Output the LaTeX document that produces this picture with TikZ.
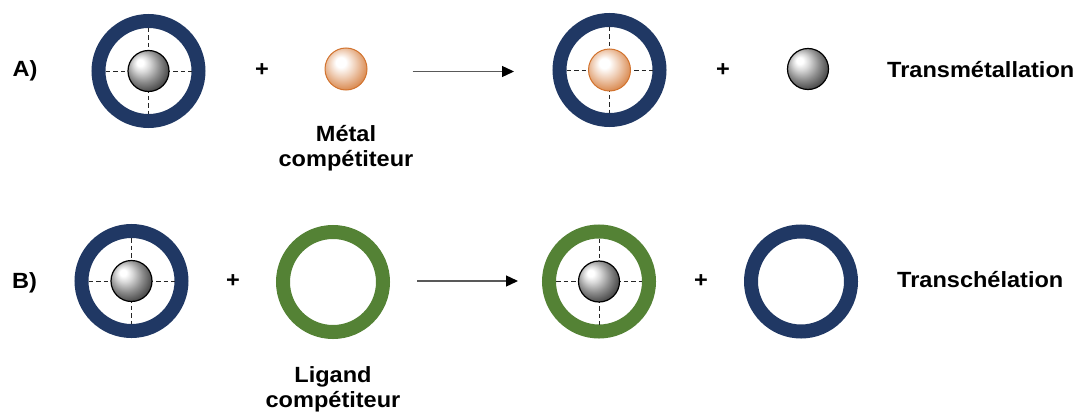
\documentclass[tikz,border=0pt]{standalone}
\usepackage{fontspec}
\setmainfont[FakeStretch=1.07]{Liberation Sans}
\usetikzlibrary{arrows.meta,calc}
\definecolor{navy}{HTML}{203864}
\definecolor{leaf}{HTML}{548235}
\definecolor{ballorange}{HTML}{D2732E}
\definecolor{arrowgray}{HTML}{595959}
\pgfdeclareradialshading{grayball}{\pgfpoint{-11bp}{11bp}}{color(0bp)=(white); color(4bp)=(white); color(10bp)=(black!15); color(20bp)=(black!45); color(30bp)=(black!72); color(40bp)=(black!88); color(50bp)=(black)}
\pgfdeclareradialshading{orangeball}{\pgfpoint{-7bp}{9bp}}{color(0bp)=(white); color(6bp)=(white); color(16bp)=(ballorange!35!white); color(28bp)=(ballorange!80!white); color(38bp)=(ballorange); color(50bp)=(ballorange)}
\tikzset{
  ring/.style={circle, draw=#1, line width=14pt, minimum size=100pt, inner sep=0pt},
  grayb/.style={circle, shading=grayball, draw=black, line width=1.2pt, minimum size=41pt, inner sep=0pt},
  orangeb/.style={circle, shading=orangeball, draw=ballorange, line width=1pt, minimum size=42pt, inner sep=0pt},
  crossl/.style={dash pattern=on 4.5pt off 3pt, line width=0.9pt, black!85},
  rxn/.style={draw=arrowgray, line width=1.3pt, -{Triangle[length=12pt,width=11pt,color=black]}},
  lbl/.style={font=\fontsize{22}{25}\selectfont\bfseries, inner sep=0pt, text=black},
  plus/.style={font=\fontsize{22}{26}\selectfont\bfseries, inner sep=0pt}
}
\newcommand{\crosshair}[1]{%
  \draw[crossl] ($(#1.center)+(-43,0)$) -- ($(#1.center)+(43,0)$);
  \draw[crossl] ($(#1.center)+(0,-43)$) -- ($(#1.center)+(0,43)$);}
\begin{document}
\begin{tikzpicture}[x=1pt,y=-1pt]
\useasboundingbox (0,0) rectangle (1078,412);
% Row A
\node[lbl, anchor=base west] (la) at (12.5,77) {A)};
\node[ring=navy] (ra1) at (148.5,71) {};
\crosshair{ra1}
\node[grayb] (ba1) at (148.5,71) {};
\node[plus] (pa1) at (262,70) {+};
\node[orangeb] (oa) at (346,69) {};
\node[lbl, align=center, anchor=north] (tm) at (346,125) {Métal\\compétiteur};
\coordinate (as) at (412.5,71.5);
\coordinate (ae) at (514,71.5);
\draw[rxn] (as) -- (ae);
\node[ring=navy] (ra2) at (609.5,70) {};
\crosshair{ra2}
\node[orangeb] (oa2) at (609.5,70) {};
\node[plus] (pa2) at (723,70) {+};
\node[grayb] (ba2) at (808,69) {};
\node[lbl, anchor=base west] (ta) at (887,77.5) {Transmétallation};
% Row B
\node[lbl, anchor=base west] (lb) at (12,288) {B)};
\node[ring=navy] (rb1) at (131.5,281) {};
\crosshair{rb1}
\node[grayb] (bb1) at (131.5,281) {};
\node[plus] (pb1) at (233,281) {+};
\node[ring=leaf] (gb) at (333,282) {};
\node[lbl, align=center, anchor=north] (tl) at (333,366) {Ligand\\compétiteur};
\coordinate (bs) at (417,281);
\coordinate (be) at (518,281);
\draw[rxn] (bs) -- (be);
\node[ring=leaf] (rb2) at (599,281.5) {};
\crosshair{rb2}
\node[grayb] (bb2) at (599,281.5) {};
\node[plus] (pb2) at (701,281.5) {+};
\node[ring=navy] (rb3) at (801,281.5) {};
\node[lbl, anchor=base west] (tb) at (897,287) {Transchélation};
\end{tikzpicture}
\end{document}
